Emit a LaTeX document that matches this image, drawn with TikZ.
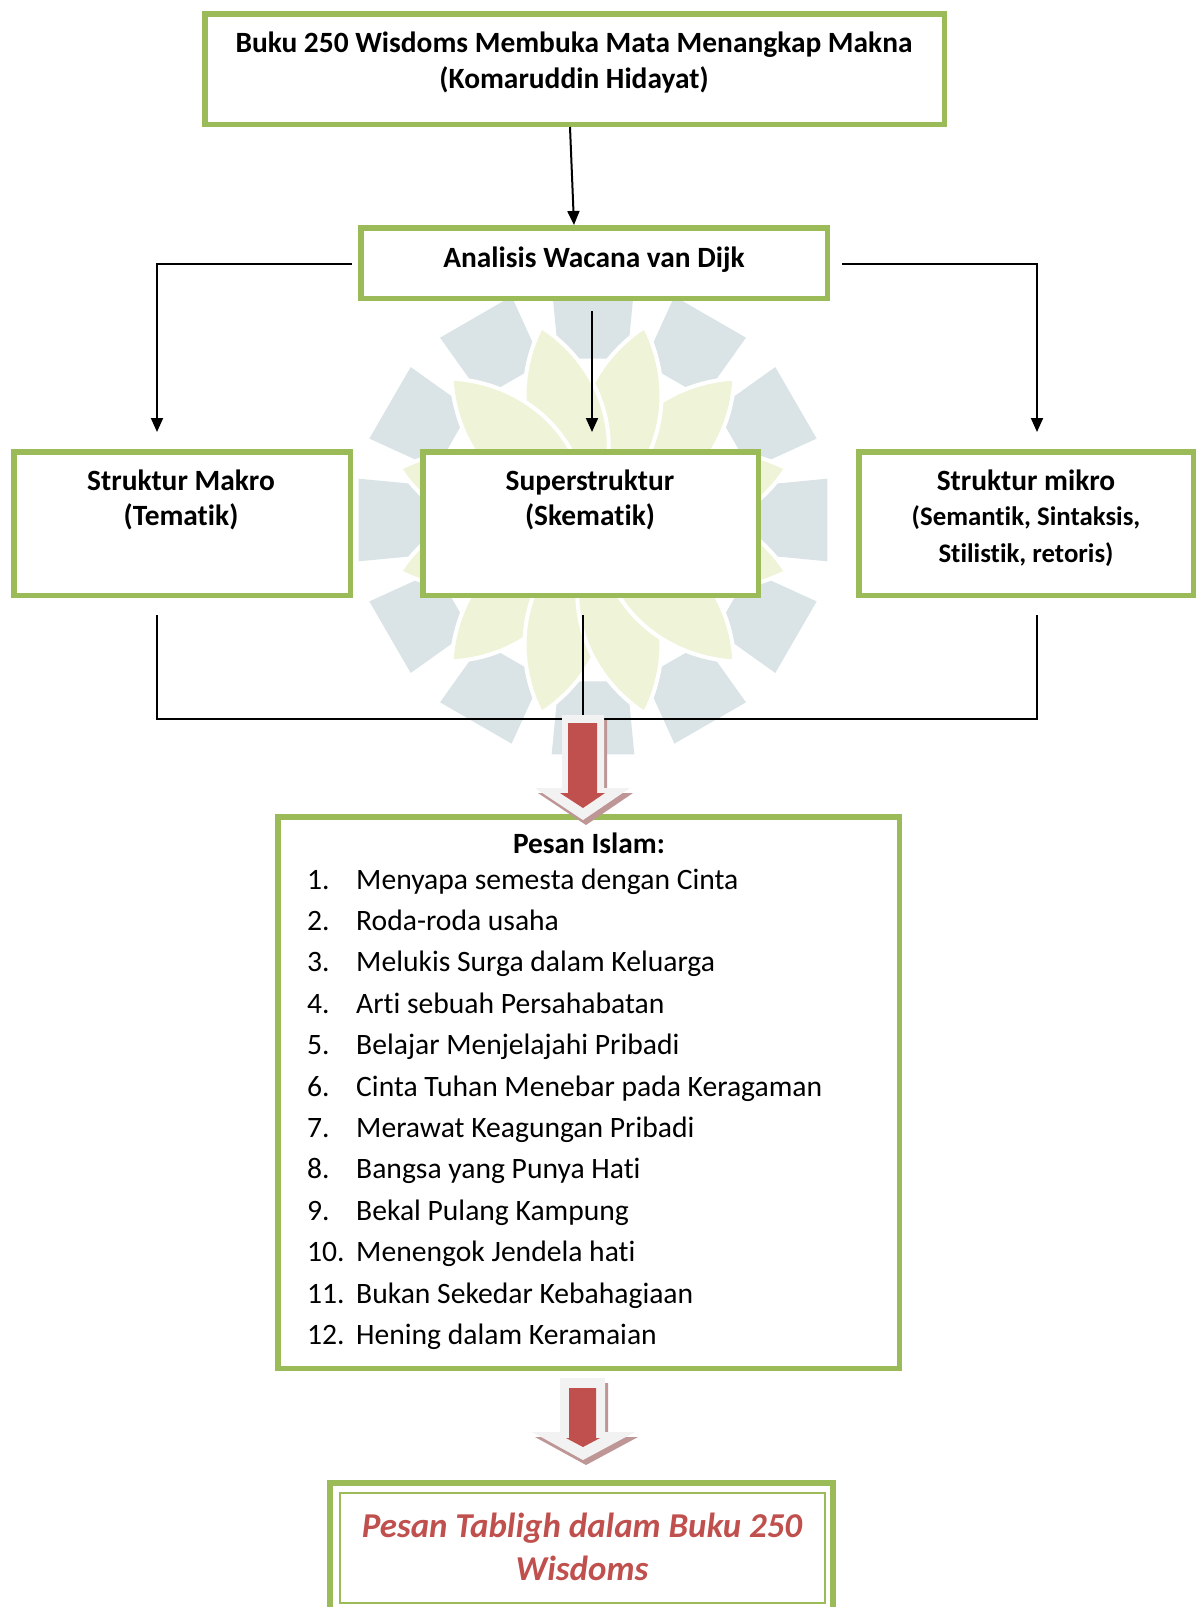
\documentclass[tikz,border=0pt]{standalone}
\usepackage{fontspec}
\setmainfont{Carlito}[Ligatures=NoCommon]
\usetikzlibrary{arrows.meta,calc}
\definecolor{gr}{RGB}{155,187,89}
\definecolor{rd}{RGB}{192,80,77}
\definecolor{wmseg}{RGB}{218,228,231}
\definecolor{wmpet}{RGB}{239,244,216}
\definecolor{shd}{RGB}{190,150,150}
\definecolor{agray}{RGB}{242,242,242}
\tikzset{
 gbox/.style={draw=gr, line width=5.5pt, fill=white, inner sep=0pt, rectangle},
 lbl/.style={inner sep=0pt, anchor=base, font=\fontsize{29.4}{35}\selectfont\bfseries},
 lbls/.style={inner sep=0pt, anchor=base, font=\fontsize{26.8}{32}\selectfont\bfseries},
 item/.style={inner sep=0pt, anchor=base west, font=\fontsize{29.6}{35}\selectfont},
 fintxt/.style={inner sep=0pt, anchor=base, text=rd, font=\fontsize{34.9}{40}\selectfont\bfseries\itshape},
 conn/.style={line width=2pt, draw=black},
 arr/.style={conn, -{Triangle[width=12pt,length=14pt]}},
 bigarrow/.style={fill=agray},
 bigshadow/.style={fill=shd},
 bigred/.style={fill=rd},
}
\begin{document}
\begin{tikzpicture}[x=1pt,y=-1pt]
\useasboundingbox (0,0) rectangle (1199,1607);
\clip (0,0) rectangle (1199,1607);
% watermark
\begin{scope}[shift={(593,520)}]
 \foreach \a in {0,30,...,330} {
   \fill[wmseg] (\a-12:165) -- (\a-10:238) -- (\a+10:238) -- (\a+12:165) -- cycle;
 }
 \foreach \a in {15,45,...,345} {
   \filldraw[fill=wmpet, draw=white, line width=4pt, rotate=\a] (5,0) .. controls (70,-58) and (150,-45) .. (200,0) .. controls (150,45) and (70,58) .. (5,0) -- cycle;
 }
\end{scope}
% boxes
\node[gbox, minimum width=739.5pt, minimum height=110.5pt] (top) at (574.5,69) {};
\node[lbl] (t1) at (574,52) {Buku 250 Wisdoms Membuka Mata Menangkap Makna};
\node[lbl] (t2) at (574,88) {(Komaruddin Hidayat)};
\node[gbox, minimum width=466.5pt, minimum height=70.5pt] (ana) at (594,263) {};
\node[lbl] (anat) at (594,267) {Analisis Wacana van Dijk};
\node[gbox, minimum width=336.5pt, minimum height=143.5pt] (mak) at (182,523.5) {};
\node[lbl] (mak1) at (181,490) {Struktur Makro};
\node[lbl] (mak2) at (181,525) {(Tematik)};
\node[gbox, minimum width=335.5pt, minimum height=143.5pt] (sup) at (590.5,523.5) {};
\node[lbl] (sup1) at (590,490) {Superstruktur};
\node[lbl] (sup2) at (590,525) {(Skematik)};
\node[gbox, minimum width=334.5pt, minimum height=143.5pt] (mik) at (1026,523.5) {};
\node[lbl] (mik1) at (1026,490) {Struktur mikro};
\node[lbls] (mik2) at (1026,525) {(Semantik, Sintaksis,};
\node[lbls] (mik3) at (1026,562) {Stilistik, retoris)};
% connectors
\draw[arr] ($(top.south)+(-4.5,0)$) -- ($(ana.north)+(-20,0)$);
\draw[arr] ($(ana.west)+(-6,1)$) -| ($(mak.north)+(-25,-17)$);
\draw[arr] ($(ana.east)+(12,1)$) -| ($(mik.north)+(11,-17)$);
\draw[arr] ($(ana.south)+(-2,10)$) -- ($(sup.north)+(1.5,-17)$);
\coordinate (jn) at (583,719);
\draw[conn] ($(mak.south)+(-25,17)$) |- (jn) -| ($(mik.south)+(11,17)$);
\draw[conn] ($(sup.south)+(-7.5,17)$) -- (jn);
% pesan islam
\node[gbox, minimum width=621.5pt, minimum height=551.5pt] (pes) at (588.5,1092.5) {};
\node[lbl] (pest) at (589,853) {Pesan Islam:};
\foreach \n/\t [count=\i from 0] in {1./Menyapa semesta dengan Cinta, 2./Roda-roda usaha, 3./Melukis Surga dalam Keluarga, 4./Arti sebuah Persahabatan, 5./Belajar Menjelajahi Pribadi, 6./Cinta Tuhan Menebar pada Keragaman, 7./Merawat Keagungan Pribadi, 8./Bangsa yang Punya Hati, 9./Bekal Pulang Kampung, 10./Menengok Jendela hati, 11./Bukan Sekedar Kebahagiaan, 12./Hening dalam Keramaian} {
  \node[item] (num\i) at (307,889+41.4*\i) {\n};
  \node[item] (itm\i) at (356,889+41.4*\i) {\t};
}
% final box
\node[draw=gr, line width=5.5pt, fill=white, inner sep=0pt, minimum width=503pt, minimum height=140pt] (fin) at (581.5,1553) {};
\node[draw=gr, line width=2pt, inner sep=0pt, minimum width=485pt, minimum height=110pt] (fin2) at (582.5,1548) {};
\node[fintxt] (f1) at (582,1537) {Pesan Tabligh dalam Buku 250};
\node[fintxt] (f2) at (582,1580) {Wisdoms};
% big arrows
\begin{scope}[shift={(3,5)}]
\fill[bigshadow] (562,715) -- (604,715) -- (604,788) -- (630,788) -- (583,820) -- (535,788) -- (562,788) -- cycle;
\fill[bigshadow] (560,1378) -- (605,1378) -- (605,1432) -- (635,1432) -- (583,1460) -- (532,1432) -- (560,1432) -- cycle;
\end{scope}
\fill[bigarrow] (562,715) -- (604,715) -- (604,788) -- (630,788) -- (583,820) -- (535,788) -- (562,788) -- cycle;
\fill[bigred] (568,723) -- (597,723) -- (597,793) -- (605,793) -- (583,808) -- (560,793) -- (568,793) -- cycle;
\fill[bigarrow] (560,1378) -- (605,1378) -- (605,1432) -- (635,1432) -- (583,1460) -- (532,1432) -- (560,1432) -- cycle;
\fill[bigred] (569,1388) -- (596,1388) -- (596,1438) -- (600,1438) -- (583,1447) -- (566,1438) -- (569,1438) -- cycle;
\end{tikzpicture}
\end{document}
